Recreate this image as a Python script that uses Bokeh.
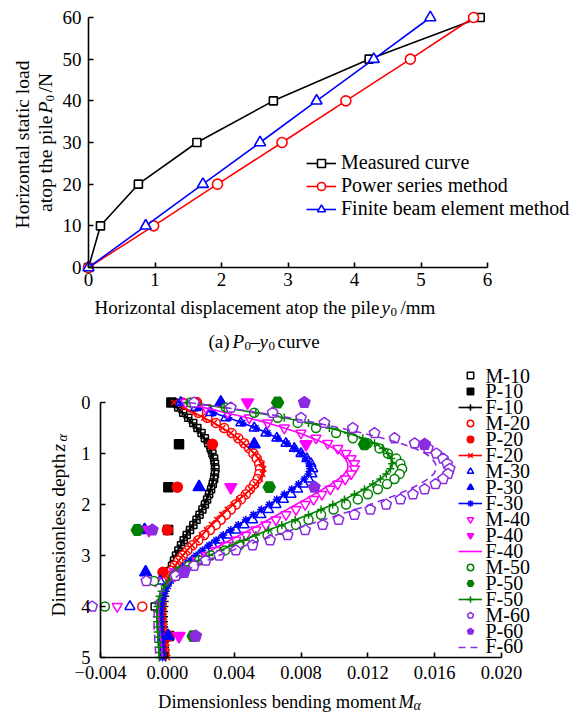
import math
from bokeh.plotting import figure
from bokeh.models import Range1d, Legend, LegendItem, Label, FixedTicker
from bokeh.layouts import column
from bokeh.embed import file_html
from bokeh.resources import INLINE

FONT = "Liberation Serif"

# ---------------- panel (a): P0-y0 curves ----------------
P0_LOADS = [0, 10, 20, 30, 40, 50, 60]
Y0_MEASURED = [0.0, 0.18, 0.75, 1.63, 2.78, 4.22, 5.89]
Y0_POWER = [0.0, 0.98, 1.94, 2.91, 3.87, 4.84, 5.79]
Y0_FEM = [0.0, 0.86, 1.72, 2.58, 3.43, 4.29, 5.14]
X1_TICKS = [0, 1, 2, 3, 4, 5, 6]
Y1_TICKS = [0, 10, 20, 30, 40, 50, 60]

# ---------------- panel (b): bending moment profiles ----------------
MOMENT_SCALE = 1e-3  # values below are given in thousandths
Z_F = [0.0, 0.1, 0.2, 0.3, 0.4, 0.5, 0.6, 0.7, 0.8, 0.9,
       1.0, 1.1, 1.2, 1.3, 1.4, 1.5, 1.6, 1.7, 1.8, 1.9,
       2.0, 2.1, 2.2, 2.3, 2.4, 2.5, 2.6, 2.7, 2.8, 2.9,
       3.0, 3.1, 3.2, 3.3, 3.4, 3.5, 3.6, 3.7, 3.8, 3.9,
       4.0, 4.1, 4.2, 4.3, 4.4, 4.5, 4.6, 4.7, 4.8, 4.9, 5.0]
F10 = [0.30, 0.60, 0.90, 1.20, 1.50, 1.75, 2.00, 2.20, 2.40, 2.55,
       2.65, 2.75, 2.80, 2.82, 2.80, 2.75, 2.68, 2.58, 2.47, 2.35,
       2.22, 2.07, 1.90, 1.72, 1.53, 1.33, 1.14, 0.96, 0.80, 0.65,
       0.51, 0.38, 0.27, 0.17, 0.08, 0.01, -0.05, -0.10, -0.13, -0.16,
       -0.18, -0.19, -0.20, -0.20, -0.19, -0.18, -0.16, -0.15, -0.13, -0.11, -0.10]
F20 = [0.40, 1.00, 1.60, 2.20, 2.80, 3.30, 3.80, 4.20, 4.55, 4.90,
       5.20, 5.45, 5.65, 5.75, 5.70, 5.55, 5.30, 5.00, 4.65, 4.30,
       3.95, 3.60, 3.28, 2.97, 2.66, 2.36, 2.06, 1.76, 1.47, 1.18,
       0.92, 0.68, 0.47, 0.28, 0.12, 0.00, -0.09, -0.15, -0.19, -0.21,
       -0.22, -0.22, -0.21, -0.19, -0.17, -0.14, -0.11, -0.08, -0.05, -0.02, 0.00]
F30 = [0.80, 1.80, 2.75, 3.65, 4.50, 5.30, 6.00, 6.60, 7.15, 7.60,
       8.00, 8.30, 8.50, 8.55, 8.45, 8.20, 7.85, 7.45, 7.00, 6.55,
       6.10, 5.62, 5.15, 4.70, 4.25, 3.80, 3.35, 2.92, 2.50, 2.10,
       1.72, 1.36, 1.03, 0.73, 0.46, 0.22, 0.03, -0.12, -0.23, -0.31,
       -0.36, -0.39, -0.40, -0.40, -0.39, -0.37, -0.35, -0.33, -0.31, -0.29, -0.28]
F40 = [0.90, 2.20, 3.50, 4.80, 6.00, 7.00, 7.90, 8.70, 9.40, 9.95,
       10.35, 10.65, 10.80, 10.80, 10.60, 10.25, 9.80, 9.30, 8.80, 8.25,
       7.70, 7.15, 6.60, 6.05, 5.50, 4.92, 4.33, 3.75, 3.18, 2.63,
       2.10, 1.60, 1.15, 0.74, 0.38, 0.08, -0.15, -0.31, -0.42, -0.48,
       -0.51, -0.52, -0.51, -0.49, -0.46, -0.43, -0.40, -0.37, -0.34, -0.32, -0.30]
F50 = [1.20, 3.40, 5.30, 7.00, 8.45, 9.70, 10.80, 11.70, 12.40, 12.90,
       13.20, 13.40, 13.45, 13.35, 13.10, 12.75, 12.30, 11.80, 11.20, 10.60,
       9.90, 9.20, 8.45, 7.65, 6.85, 6.05, 5.30, 4.58, 3.88, 3.18,
       2.50, 1.88, 1.33, 0.85, 0.44, 0.10, -0.16, -0.34, -0.46, -0.54,
       -0.59, -0.62, -0.63, -0.62, -0.60, -0.58, -0.56, -0.54, -0.52, -0.50, -0.48]
F60 = [1.30, 3.50, 5.50, 7.30, 8.90, 10.35, 11.70, 12.90, 13.95, 14.80,
       15.45, 15.85, 16.05, 16.10, 15.95, 15.60, 15.10, 14.50, 13.80, 13.00,
       12.15, 11.25, 10.30, 9.35, 8.40, 7.45, 6.50, 5.60, 4.72, 3.88,
       3.08, 2.35, 1.70, 1.12, 0.62, 0.22, -0.10, -0.34, -0.52, -0.64,
       -0.72, -0.77, -0.79, -0.80, -0.79, -0.78, -0.76, -0.74, -0.72, -0.70, -0.68]

Z_M = [0.0, 0.1, 0.2, 0.3, 0.4, 0.5, 0.6, 0.7, 0.8, 0.9,
       1.0, 1.1, 1.2, 1.3, 1.4, 1.5, 1.6, 1.7, 1.8, 1.9,
       2.0, 2.1, 2.2, 2.3, 2.4, 2.5, 2.6, 2.7, 2.8, 2.9,
       3.0, 3.1, 3.2, 3.3, 3.4, 3.5, 4.0]
M10 = [0.40, 0.65, 0.95, 1.25, 1.55, 1.80, 2.05, 2.25, 2.45, 2.60,
       2.70, 2.80, 2.85, 2.88, 2.85, 2.80, 2.72, 2.62, 2.50, 2.38,
       2.25, 2.10, 1.93, 1.75, 1.56, 1.36, 1.16, 0.98, 0.82, 0.66,
       0.52, 0.40, 0.28, 0.18, 0.09, 0.00, -0.76]
M20 = [0.90, 1.40, 1.85, 2.40, 2.90, 3.40, 3.85, 4.25, 4.60, 4.90,
       5.15, 5.35, 5.50, 5.55, 5.50, 5.40, 5.20, 4.95, 4.70, 4.40,
       4.10, 3.80, 3.50, 3.20, 2.90, 2.55, 2.20, 1.85, 1.50, 1.20,
       0.92, 0.66, 0.44, 0.25, 0.10, -0.10, -1.50]
M30 = [0.80, 1.70, 2.60, 3.50, 4.40, 5.20, 5.90, 6.55, 7.10, 7.60,
       8.00, 8.35, 8.60, 8.70, 8.65, 8.45, 8.15, 7.80, 7.40, 6.95,
       6.50, 6.05, 5.60, 5.10, 4.60, 4.10, 3.60, 3.15, 2.70, 2.30,
       1.90, 1.50, 1.12, 0.78, 0.46, -0.44, -2.24]
M40 = [1.10, 2.30, 3.60, 4.90, 6.00, 7.00, 8.00, 8.90, 9.60, 10.20,
       10.70, 11.00, 11.20, 11.20, 11.00, 10.65, 10.20, 9.75, 9.25, 8.75,
       8.25, 7.70, 7.10, 6.50, 5.90, 5.30, 4.70, 4.10, 3.50, 2.90,
       2.35, 1.80, 1.30, 0.85, 0.45, -0.70, -3.00]
M50 = [1.40, 3.50, 5.20, 6.60, 7.80, 8.90, 10.10, 11.10, 12.00, 12.70,
       13.20, 13.70, 13.95, 14.05, 13.90, 13.60, 13.15, 12.60, 12.00, 11.40,
       10.70, 9.95, 9.20, 8.45, 7.70, 6.85, 6.00, 5.15, 4.30, 3.45,
       2.60, 1.90, 1.30, 0.80, 0.40, -0.80, -3.74]
M60 = [1.60, 3.80, 6.30, 8.00, 9.40, 11.10, 12.40, 13.60, 14.80, 15.60,
       16.10, 16.50, 16.75, 16.90, 16.80, 16.50, 16.05, 15.40, 14.70, 13.95,
       13.10, 12.15, 11.20, 10.25, 9.30, 8.25, 7.20, 6.15, 5.10, 4.10,
       3.10, 2.30, 1.60, 1.00, 0.50, -1.26, -4.50]

Z_P = [0.0, 0.82, 1.66, 2.5, 3.33, 4.58]
P10 = [0.24, 0.70, 0.06, 0.05, 0.00, 0.10]
P20 = [1.75, 2.70, 0.60, 0.00, -0.26, 0.10]
P30 = [3.20, 5.20, 1.90, -1.36, -1.30, 0.05]
P40 = [4.80, 8.30, 3.80, -1.10, 0.50, 0.70]
P50 = [6.60, 11.80, 6.10, -1.80, 0.70, 1.55]
P60 = [8.20, 15.40, 8.80, -0.90, 1.00, 1.70]

X2_TICKS = [-0.004, 0.0, 0.004, 0.008, 0.012, 0.016, 0.020]
X2_LABELS = ["\u22120.004", "0.000", "0.004", "0.008", "0.012", "0.016", "0.020"]
Y2_TICKS = [0, 1, 2, 3, 4, 5]

BLACK, RED, BLUE = "#000000", "#FF0000", "#0000FF"
MAGENTA, GREEN, PURPLE = "#FF00FF", "#008000", "#8B2BE2"

W = 570
H1, H2 = 355, 358


def style_axes(p, xb, yb, xfix, yfix, xticks, yticks, fs):
    p.xaxis.fixed_location = xfix
    p.yaxis.fixed_location = yfix
    p.xaxis.bounds = xb
    p.yaxis.bounds = yb
    p.xaxis.ticker = FixedTicker(ticks=xticks)
    p.yaxis.ticker = FixedTicker(ticks=yticks)
    for ax in (p.xaxis, p.yaxis):
        ax.axis_line_width = 1.6
        ax.axis_line_color = "black"
        ax.major_tick_line_width = 1.6
        ax.major_tick_in = 5
        ax.major_tick_out = 0
        ax.minor_tick_line_color = None
        ax.major_label_text_font = FONT
        ax.major_label_text_font_size = fs
        ax.major_label_text_color = "black"
    p.grid.visible = False
    p.outline_line_color = None


def make_fig(h, xr, yr):
    return figure(frame_width=W, frame_height=h, x_range=Range1d(*xr),
                  y_range=Range1d(*yr), min_border=0, title=None,
                  toolbar_location=None, output_backend="svg")


def lab(p, x, y, text, size="19px", style="normal", align="left", angle=0.0):
    p.add_layout(Label(x=x, y=y, text=text, text_font=FONT, text_font_size=size,
                       text_font_style=style, text_align=align,
                       text_baseline="middle", angle=angle, text_color="black"))


HALF_PI = math.pi / 2

# ================= figure (a) =================
# pixel anchors: x=0 -> 88 px, x=6 -> 487 px; y=0 -> 267 px, y=60 -> 17 px
KX1 = (487 - 88) / 6.0
KY1 = (267 - 17) / 60.0
X1R = (-88 / KX1, -88 / KX1 + W / KX1)
Y1R = (-(H1 - 267) / KY1, 60 + 17 / KY1)
p1 = make_fig(H1, X1R, Y1R)
style_axes(p1, (0, 6), (0, 60), 0, 0, X1_TICKS, Y1_TICKS, "19px")
p1.xaxis.major_label_standoff = 5
p1.yaxis.major_label_standoff = 7


def X1(px):
    return X1R[0] + px / KX1


def Y1(py):
    return Y1R[1] - py / KY1


lm = p1.line(Y0_MEASURED, P0_LOADS, line_color=BLACK, line_width=1.6)
sm = p1.scatter(Y0_MEASURED, P0_LOADS, marker="square", size=8, fill_color="white",
                line_color=BLACK, line_width=1.6)
lp = p1.line(Y0_POWER, P0_LOADS, line_color=RED, line_width=1.6)
sp = p1.scatter(Y0_POWER, P0_LOADS, marker="circle", size=10, fill_color="white",
                line_color=RED, line_width=1.6)
lf = p1.line(Y0_FEM, P0_LOADS, line_color=BLUE, line_width=1.6)
sf = p1.scatter(Y0_FEM, P0_LOADS, marker="triangle", size=11, fill_color="white",
                line_color=BLUE, line_width=1.6)

leg1 = Legend(items=[LegendItem(label="Measured curve", renderers=[lm, sm]),
                     LegendItem(label="Power series method", renderers=[lp, sp]),
                     LegendItem(label="Finite beam element method", renderers=[lf, sf])],
              location=(306, H1 - 220), glyph_width=30, glyph_height=20, label_standoff=5,
              padding=0, margin=0, spacing=0, border_line_color=None,
              background_fill_alpha=0, label_text_font=FONT,
              label_text_font_size="20px", label_text_color="black")
p1.add_layout(leg1)

# x-axis title of (a)
lab(p1, X1(379), Y1(307), "Horizontal displacement atop the pile", align="right")
lab(p1, X1(381), Y1(307), "y", style="italic")
lab(p1, X1(390), Y1(311), "0", size="13px")
lab(p1, X1(400), Y1(307), "/mm")
# caption
lab(p1, X1(229), Y1(341), "(a)", align="right")
lab(p1, X1(232), Y1(341), "P", style="italic")
lab(p1, X1(244), Y1(345), "0", size="13px")
lab(p1, X1(250), Y1(341), "\u2013")
lab(p1, X1(259), Y1(341), "y", style="italic")
lab(p1, X1(268), Y1(345), "0", size="13px")
lab(p1, X1(277), Y1(341), "curve")
# y-axis title of (a) (rotated)
lab(p1, X1(22), Y1(144), "Horizontal static load", size="19.5px", align="center", angle=HALF_PI)
lab(p1, X1(45), Y1(115), "atop the pile", size="19.5px", align="right", angle=HALF_PI)
lab(p1, X1(45), Y1(113), "P", size="19.5px", style="italic", angle=HALF_PI)
lab(p1, X1(49), Y1(101), "0", size="13px", angle=HALF_PI)
lab(p1, X1(45), Y1(92), "/N", size="19.5px", angle=HALF_PI)

# ================= figure (b) =================
# pixel anchors (local): x=-0.004 -> 100 px, x=0.020 -> 501 px; z=0 -> 47 px, z=5 -> 302 px
KX2 = (501 - 100) / 0.024
KY2 = (302 - 47) / 5.0
X2R = (-0.004 - 100 / KX2, -0.004 - 100 / KX2 + W / KX2)
Y2R = (5 + (H2 - 302) / KY2, -47 / KY2)
p2 = make_fig(H2, X2R, Y2R)
style_axes(p2, (-0.004, 0.020), (0, 5), 5, -0.004, X2_TICKS, Y2_TICKS, "18.5px")
p2.xaxis.major_label_overrides = {t: s for t, s in zip(X2_TICKS, X2_LABELS)}
p2.xaxis.major_label_standoff = 8
p2.yaxis.major_label_standoff = 10


def X2(px):
    return X2R[0] + px / KX2


def Y2(py_page):
    return Y2R[1] + (py_page - H1) / KY2


def sc(vals):
    return [v * MOMENT_SCALE for v in vals]


def pent(p, xs, ys, color, filled, size):
    try:
        return p.ngon(x=xs, y=ys, radius=size / 2, radius_units="screen", n=5,
                      angle=0, fill_color=color if filled else "white",
                      line_color=color, line_width=1.5)
    except Exception:
        return p.scatter(xs, ys, marker="hex", size=size,
                         fill_color=color if filled else "white",
                         line_color=color, line_width=1.5)


items = []
names = []
series = [
    ("10", BLACK, M10, P10, F10, "square", 7, "square", 9, "cross", None),
    ("20", RED, M20, P20, F20, "circle", 9, "circle", 10, "x", None),
    ("30", BLUE, M30, P30, F30, "triangle", 10, "triangle", 12, "asterisk", None),
    ("40", MAGENTA, M40, P40, F40, "inverted_triangle", 10, "inverted_triangle", 12, None, None),
    ("50", GREEN, M50, P50, F50, "circle", 9, "hex", 12, "cross", None),
    ("60", PURPLE, M60, P60, F60, "pentagon", 11, "pentagon", 12, None, "7 5"),
]
for tag, col, mv, pv, fv, mm, ms, pm, ps, fm, dash in series:
    mx, px_, fx = sc(mv), sc(pv), sc(fv)
    if mm == "pentagon":
        rm = pent(p2, mx, Z_M, col, False, ms)
    else:
        rm = p2.scatter(mx, Z_M, marker=mm, size=ms, fill_color="white",
                        line_color=col, line_width=1.5)
    if pm == "pentagon":
        rp = pent(p2, px_, Z_P, col, True, ps)
    else:
        rp = p2.scatter(px_, Z_P, marker=pm, size=ps, fill_color=col,
                        line_color=col, line_width=1.5)
    rl = p2.line(fx, Z_F, line_color=col, line_width=1.6,
                 line_dash=dash if dash else "solid")
    frs = [rl]
    if fm:
        frs.append(p2.scatter(fx, Z_F, marker=fm, size=8, line_color=col,
                              line_width=1.5))
    # legend keys only (texts are placed separately for tight row spacing)
    items.append(LegendItem(label=" ", renderers=[rm]))
    items.append(LegendItem(label=" ", renderers=[rp]))
    items.append(LegendItem(label=" ", renderers=frs))
    names += ["M-" + tag, "P-" + tag, "F-" + tag]

ROW = 15.94        # legend row pitch, px
ROW0 = 375         # page y of the first legend row
leg2 = Legend(items=items, location=(458, H2 - (ROW0 - H1 - 8 + 18 * 16)),
              glyph_width=24, glyph_height=16, label_height=16, label_width=1,
              label_standoff=0, padding=0, margin=0, spacing=0,
              border_line_color=None, background_fill_alpha=0,
              label_text_font=FONT, label_text_font_size="1px")
p2.add_layout(leg2)
for i, nm in enumerate(names):
    lab(p2, X2(485), Y2(ROW0 + i * ROW), nm, size="20px")

# axis titles of (b)
lab(p2, X2(396), Y2(701), "Dimensionless bending moment", size="18.5px", align="right")
lab(p2, X2(398), Y2(701), "M", size="18.5px", style="italic")
lab(p2, X2(413), Y2(705), "\u03b1", size="14px", style="italic")
lab(p2, X2(58), Y2(453), "Dimensionless depth", size="19.5px", align="right", angle=HALF_PI)
lab(p2, X2(58), Y2(451), "z", size="19.5px", style="italic", angle=HALF_PI)
lab(p2, X2(62), Y2(441), "\u03b1", size="14px", style="italic", angle=HALF_PI)

layout = column(p1, p2, spacing=0)
open("out.html", "w").write(file_html(layout, INLINE))
